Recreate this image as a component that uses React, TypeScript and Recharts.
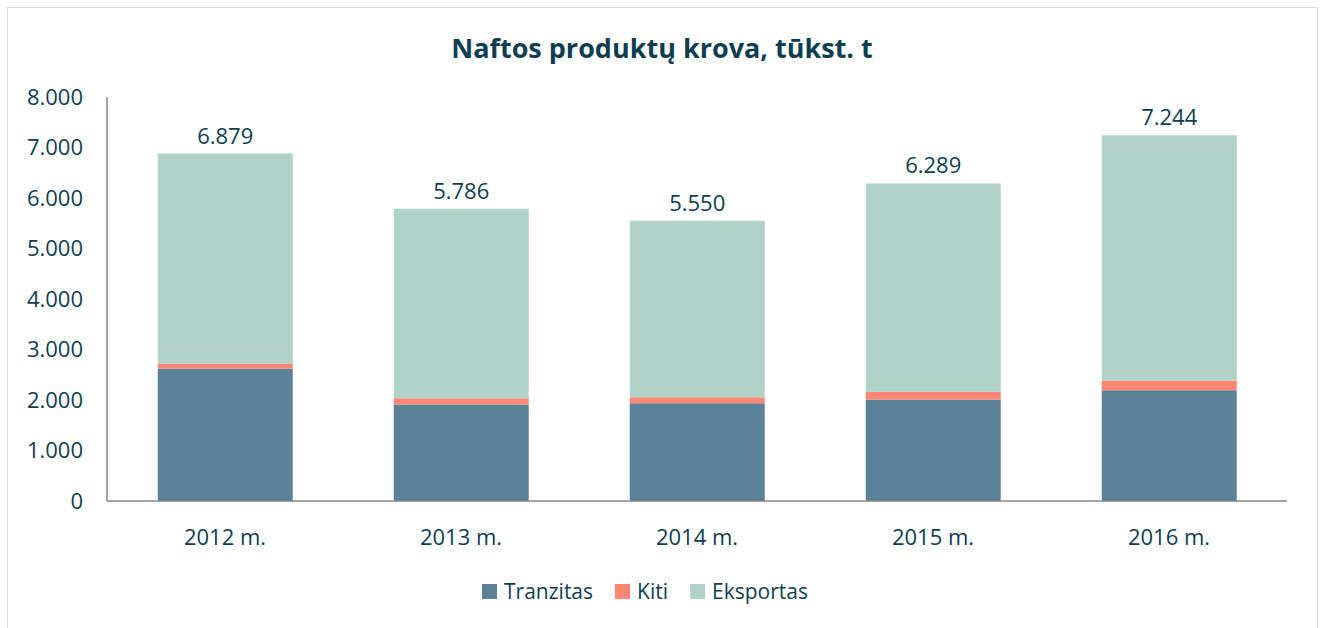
import { BarChart, Bar, XAxis, YAxis, Legend, LabelList } from "recharts"

const years = ["2012 m.", "2013 m.", "2014 m.", "2015 m.", "2016 m."]
const tranzitas = [2618, 1911, 1937, 2010, 2194]
const kiti = [105, 125, 118, 152, 192]
const eksportas = [4156, 3750, 3495, 4127, 4858]
const totals = [6879, 5786, 5550, 6289, 7244]
const yTicks = [0, 1000, 2000, 3000, 4000, 5000, 6000, 7000, 8000]
const legendOrder = ["Tranzitas", "Kiti", "Eksportas"]

const data = years.map((name, i) => ({
  name, tranzitas: tranzitas[i], kiti: kiti[i], eksportas: eksportas[i], total: totals[i]
}))

const TXT = "#0f3e53"
const FONT = "'Open Sans', 'Noto Sans', sans-serif"
const fmt = (v: number) => String(v).replace(/\B(?=(\d{3})+(?!\d))/g, ".")

function LegendBox({ payload }: any) {
  const items = [...(payload || [])].sort((a: any, b: any) => legendOrder.indexOf(a.value) - legendOrder.indexOf(b.value))
  return (
    <div style={{ display: "flex", justifyContent: "center", gap: 22, fontFamily: FONT, fontSize: 21, color: TXT }}>
      {items.map((p: any) => (
        <div key={p.value} style={{ display: "flex", alignItems: "center", gap: 7 }}>
          <span style={{ width: 15, height: 15, background: p.color, display: "inline-block" }} />
          <span>{p.value}</span>
        </div>
      ))}
    </div>
  )
}

export default function App() {
  return (
    <div style={{ position: "relative", width: 1322, height: 628, background: "#fff", fontFamily: FONT }}>
      <style>{`body{margin:0}`}</style>
      <div style={{ position: "absolute", left: 7, top: 7, width: 1309, height: 640, border: "1px solid #d9d9d9" }} />
      <div style={{ position: "absolute", top: 29, left: 0, width: 1324, textAlign: "center", fontSize: 27, fontWeight: 700, color: TXT }}>
        Naftos produktų krova, tūkst. t
      </div>
      <div style={{ position: "absolute", left: 0, top: 0 }}>
        <BarChart width={1322} height={628} data={data} barCategoryGap="21.5%"
          margin={{ top: 97, right: 35, left: 47, bottom: 39 }}>
          <XAxis dataKey="name" height={60} tickLine={false} stroke="#868686" strokeWidth={1.5}
            tick={{ fontSize: 22, fill: TXT, fontFamily: FONT }} tickMargin={22} />
          <YAxis width={60} domain={[0, 8000]} ticks={yTicks} interval={0} tickLine={false} stroke="#868686" strokeWidth={1.5}
            tick={{ fontSize: 22, fill: TXT, fontFamily: FONT }} tickMargin={18} tickFormatter={fmt} />
          <Legend verticalAlign="bottom" content={<LegendBox />}
            wrapperStyle={{ position: "absolute", top: 577, left: 0, width: 1290, bottom: "auto" }} />
          <Bar dataKey="tranzitas" name="Tranzitas" stackId="a" fill="#5b8199" isAnimationActive={false} />
          <Bar dataKey="kiti" name="Kiti" stackId="a" fill="#ff8672" isAnimationActive={false} />
          <Bar dataKey="eksportas" name="Eksportas" stackId="a" fill="#afd2c9" isAnimationActive={false}>
            <LabelList dataKey="total" position="top" offset={10} formatter={(v: any) => fmt(v)}
              style={{ fontSize: 22, fill: TXT, fontFamily: FONT }} />
          </Bar>
        </BarChart>
      </div>
    </div>
  )
}
